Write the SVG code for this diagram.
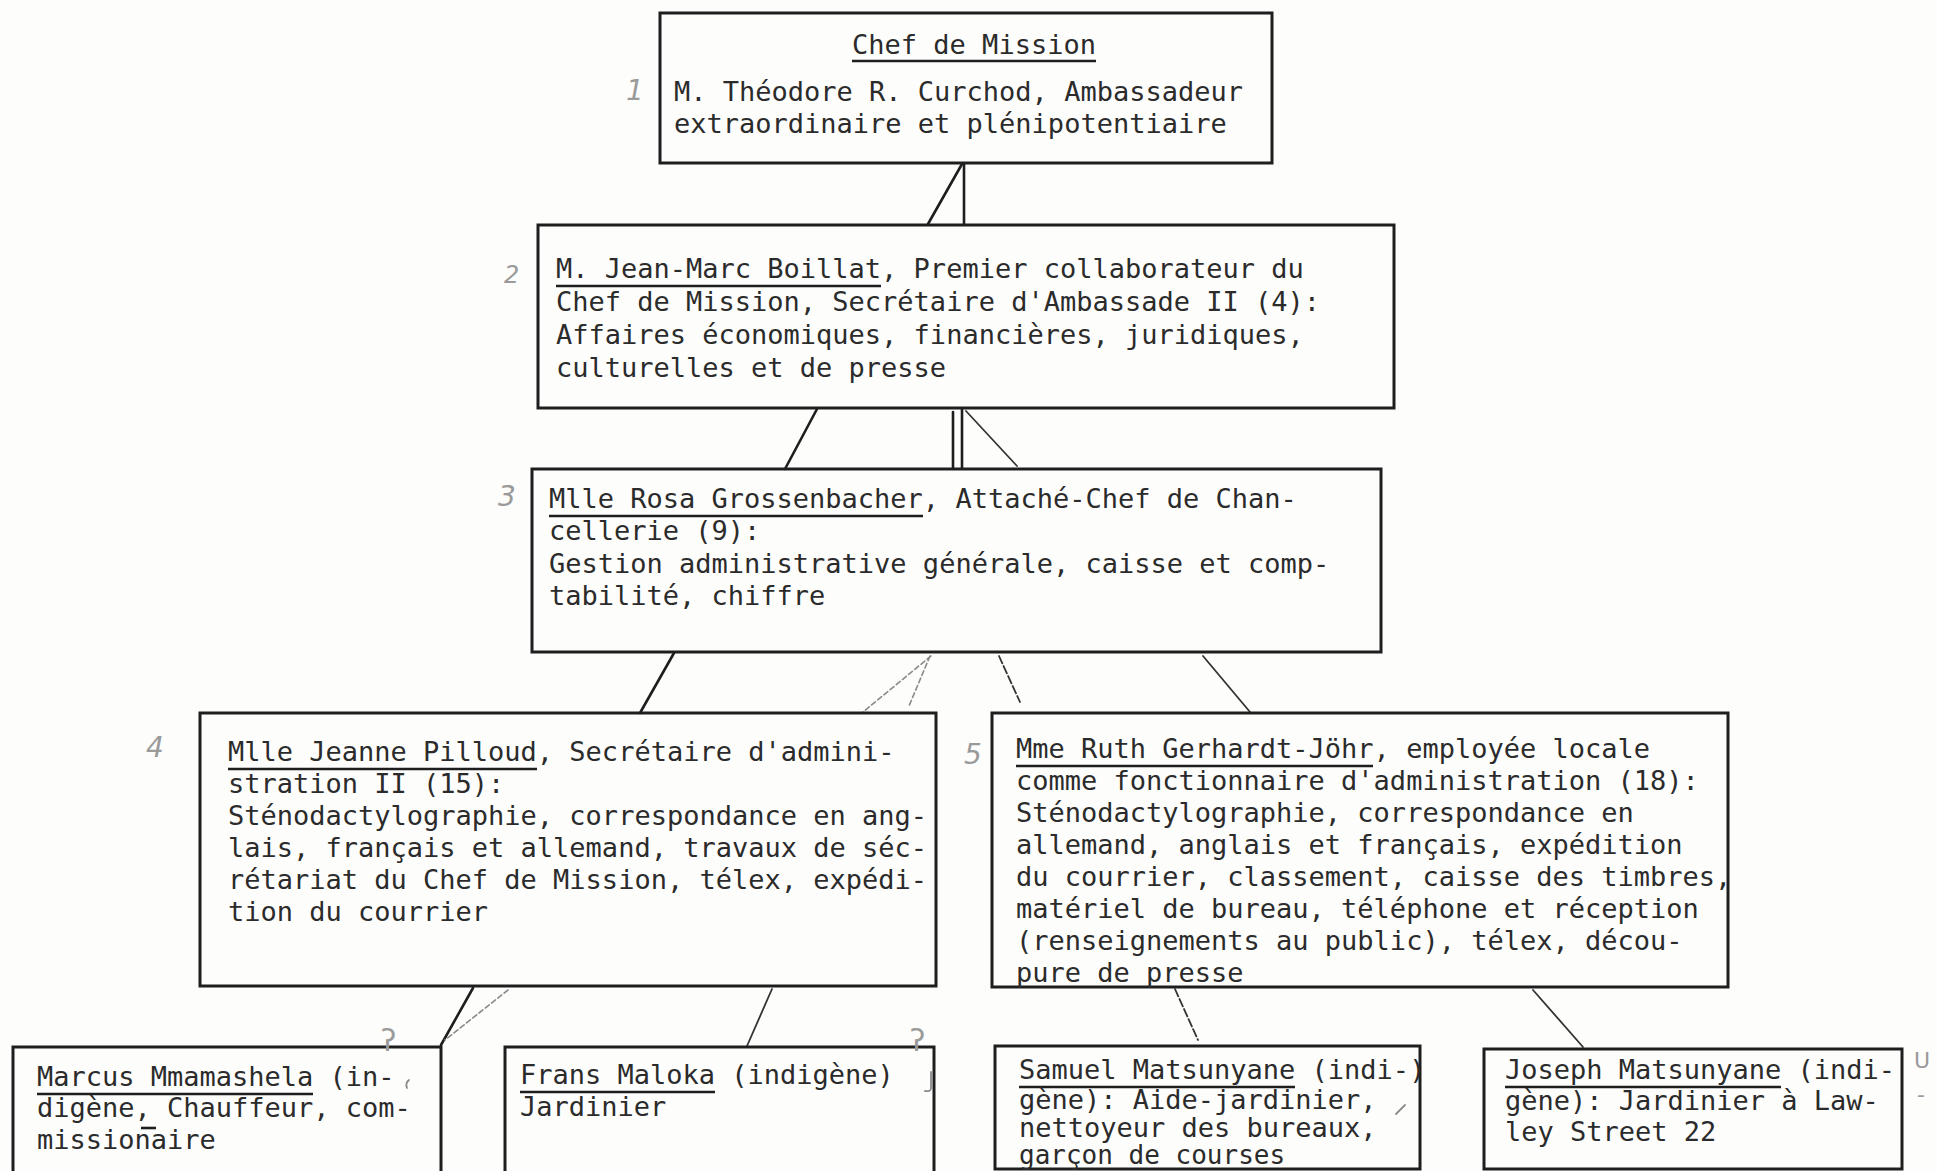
<svg xmlns="http://www.w3.org/2000/svg" width="1937" height="1171" viewBox="0 0 1937 1171">
<style>
.bg{fill:#fdfdfc}
.box{fill:none;stroke:#1e1e1e;stroke-width:3}
.t{font-family:"DejaVu Sans Mono","Liberation Mono",monospace;font-size:27px;fill:#2b2b2b}
.ul{stroke:#1e1e1e;stroke-width:2.6}
.hand{font-family:"DejaVu Sans","Liberation Sans",sans-serif;font-style:italic;font-size:28px;fill:#9a9a9a}
.mark{stroke:#8a8a8a;stroke-width:1.8;fill:none;stroke-linecap:round}
.c line{stroke:#1e1e1e;stroke-width:2.6;stroke-linecap:round}
.c line.thin{stroke-width:1.8;stroke:#333}
.c line.faint{stroke:#8a8a8a;stroke-width:1.6;stroke-dasharray:5 3}
.c line.dash{stroke:#333;stroke-width:1.8;stroke-dasharray:8 3}
</style>
<rect class="bg" x="0" y="0" width="1937" height="1171"/>

<g id="connectors" class="c">
<line x1="962" y1="164" x2="928" y2="224"/>
<line x1="964" y1="164" x2="964" y2="224"/>
<line x1="817" y1="409" x2="785" y2="469"/>
<line x1="953" y1="412" x2="953" y2="468"/>
<line x1="962" y1="409" x2="962" y2="468"/>
<line class="thin" x1="966" y1="411" x2="1017" y2="466"/>
<line x1="674" y1="653" x2="640" y2="713"/>
<line class="faint" x1="931" y1="656" x2="863" y2="712"/>
<line class="faint" x1="930" y1="656" x2="909" y2="706"/>
<line class="dash" x1="999" y1="656" x2="1020" y2="702"/>
<line class="thin" x1="1203" y1="656" x2="1250" y2="712"/>
<line x1="473" y1="988" x2="441" y2="1045"/>
<line class="faint" x1="508" y1="990" x2="445" y2="1040"/>
<line class="thin" x1="772" y1="989" x2="747" y2="1046"/>
<line class="dash" x1="1175" y1="989" x2="1198" y2="1040"/>
<line class="thin" x1="1533" y1="990" x2="1583" y2="1047"/>
</g>

<g id="node-chef">
<rect class="box" x="660" y="13" width="612" height="150"/>
<text class="t" x="974" y="54" text-anchor="middle">Chef de Mission</text>
<line class="ul" x1="852" y1="61" x2="1096" y2="61"/>
<text class="t" x="674" y="101">M. Théodore R. Curchod, Ambassadeur</text>
<text class="t" x="674" y="133">extraordinaire et plénipotentiaire</text>
<text class="hand" x="626" y="100">1</text>
</g>

<g id="node-boillat">
<rect class="box" x="538" y="225" width="856" height="183"/>
<text class="t" x="556" y="278">M. Jean-Marc Boillat, Premier collaborateur du</text>
<line class="ul" x1="556" y1="286" x2="881" y2="286"/>
<text class="t" x="556" y="311">Chef de Mission, Secrétaire d'Ambassade II (4):</text>
<text class="t" x="556" y="344">Affaires économiques, financières, juridiques,</text>
<text class="t" x="556" y="377">culturelles et de presse</text>
<text class="hand" x="504" y="283" style="font-size:24px">2</text>
</g>

<g id="node-grossenbacher">
<rect class="box" x="532" y="469" width="849" height="183"/>
<text class="t" x="549" y="508">Mlle Rosa Grossenbacher, Attaché-Chef de Chan-</text>
<line class="ul" x1="549" y1="516" x2="923" y2="516"/>
<text class="t" x="549" y="540">cellerie (9):</text>
<text class="t" x="549" y="573">Gestion administrative générale, caisse et comp-</text>
<text class="t" x="549" y="605">tabilité, chiffre</text>
<text class="hand" x="498" y="506">3</text>
</g>

<g id="node-pilloud">
<rect class="box" x="200" y="713" width="736" height="273"/>
<text class="t" x="228" y="761">Mlle Jeanne Pilloud, Secrétaire d'admini-</text>
<line class="ul" x1="228" y1="769" x2="537" y2="769"/>
<text class="t" x="228" y="793">stration II (15):</text>
<text class="t" x="228" y="825">Sténodactylographie, correspondance en ang-</text>
<text class="t" x="228" y="857">lais, français et allemand, travaux de séc-</text>
<text class="t" x="228" y="889">rétariat du Chef de Mission, télex, expédi-</text>
<text class="t" x="228" y="921">tion du courrier</text>
<text class="hand" x="146" y="757">4</text>
</g>

<g id="node-gerhardt">
<rect class="box" x="992" y="713" width="736" height="274"/>
<text class="t" x="1016" y="758">Mme Ruth Gerhardt-Jöhr, employée locale</text>
<line class="ul" x1="1016" y1="766" x2="1373" y2="766"/>
<text class="t" x="1016" y="790">comme fonctionnaire d'administration (18):</text>
<text class="t" x="1016" y="822">Sténodactylographie, correspondance en</text>
<text class="t" x="1016" y="854">allemand, anglais et français, expédition</text>
<text class="t" x="1016" y="886">du courrier, classement, caisse des timbres,</text>
<text class="t" x="1016" y="918">matériel de bureau, téléphone et réception</text>
<text class="t" x="1016" y="950">(renseignements au public), télex, décou-</text>
<text class="t" x="1016" y="982">pure de presse</text>
<text class="hand" x="964" y="764">5</text>
</g>

<g id="node-mmamashela">
<rect class="box" x="13" y="1047" width="428" height="200"/>
<text class="t" x="37" y="1086">Marcus Mmamashela (in-</text>
<line class="ul" x1="37" y1="1094" x2="313" y2="1094"/>
<text class="t" x="37" y="1117">digène, Chauffeur, com-</text>
<line class="ul" x1="141" y1="1128" x2="156" y2="1128"/>
<text class="t" x="37" y="1149">missionaire</text>
<text class="hand" x="381" y="1051" style="font-style:normal;font-size:30px">ʔ</text>
<path class="mark" d="M409 1080 q-4 3 -2 8"/>
</g>

<g id="node-maloka">
<rect class="box" x="505" y="1047" width="429" height="200"/>
<text class="t" x="520" y="1084">Frans Maloka (indigène)</text>
<line class="ul" x1="520" y1="1092" x2="715" y2="1092"/>
<text class="t" x="520" y="1116">Jardinier</text>
<text class="hand" x="910" y="1051" style="font-style:normal;font-size:30px">ʔ</text>
<path class="mark" d="M931 1072 v16 q0 4 -6 3"/>
</g>

<g id="node-samuel">
<rect class="box" x="995" y="1046" width="425" height="123"/>
<text class="t" x="1019" y="1079">Samuel Matsunyane (indi-)</text>
<line class="ul" x1="1019" y1="1087" x2="1295" y2="1087"/>
<text class="t" x="1019" y="1109">gène): Aide-jardinier,</text>
<text class="t" x="1019" y="1137">nettoyeur des bureaux,</text>
<text class="t" x="1019" y="1164" style="font-size:26px">garçon de courses</text>
<path class="mark" d="M1396 1114 l9 -9"/>
</g>

<g id="node-joseph">
<rect class="box" x="1484" y="1049" width="418" height="120"/>
<text class="t" x="1505" y="1079">Joseph Matsunyane (indi-</text>
<line class="ul" x1="1505" y1="1087" x2="1781" y2="1087"/>
<text class="t" x="1505" y="1110">gène): Jardinier à Law-</text>
<text class="t" x="1505" y="1141">ley Street 22</text>
<text class="hand" x="1914" y="1068" style="font-style:normal;font-size:22px">U</text>
<text class="hand" x="1917" y="1102" style="font-style:normal;font-size:22px">-</text>
</g>
</svg>
